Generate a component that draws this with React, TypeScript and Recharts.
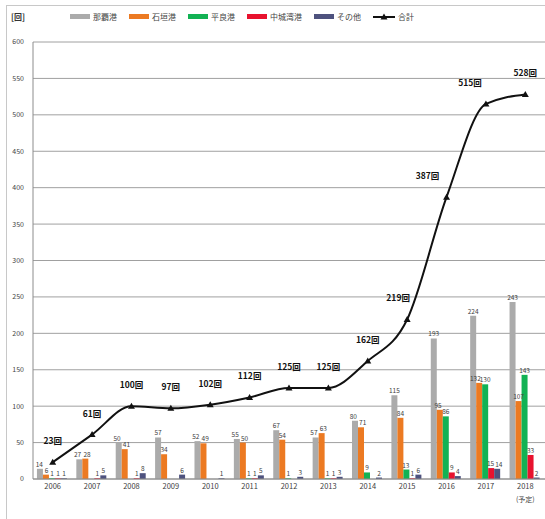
import React from 'react';
import { ComposedChart, Bar, Line, XAxis, YAxis, CartesianGrid, LabelList } from 'recharts';

const years = ['2006', '2007', '2008', '2009', '2010', '2011', '2012', '2013', '2014', '2015', '2016', '2017', '2018'];
const naha = [14, 27, 50, 57, 52, 55, 67, 57, 80, 115, 193, 224, 243];
const ishigaki = [6, 28, 41, 34, 49, 50, 54, 63, 71, 84, 95, 132, 107];
const hirara = [1, 0, 0, 0, 0, 1, 1, 1, 9, 13, 86, 130, 143];
const nakagusuku = [1, 1, 1, 0, 0, 1, 0, 1, 0, 1, 9, 15, 33];
const other = [1, 5, 8, 6, 1, 5, 3, 3, 2, 6, 4, 14, 2];
const total = [23, 61, 100, 97, 102, 112, 125, 125, 162, 219, 387, 515, 528];
const yTicks = [0, 50, 100, 150, 200, 250, 300, 350, 400, 450, 500, 550, 600];

const seriesNames = ['那覇港', '石垣港', '平良港', '中城湾港', 'その他'];
const seriesKeys = ['naha', 'ishigaki', 'hirara', 'nakagusuku', 'other'];
const seriesColors = ['#ababab', '#ec7a22', '#12b254', '#e8122e', '#4e527e'];
const seriesValues = [naha, ishigaki, hirara, nakagusuku, other];

const data = years.map((y, i) => ({
  year: y,
  naha: naha[i],
  ishigaki: ishigaki[i],
  hirara: hirara[i],
  nakagusuku: nakagusuku[i],
  other: other[i],
  total: total[i],
}));

const FONT = '"Noto Sans CJK JP", "Noto Sans", sans-serif';
const LABEL_FS = 6.5;
const DIGIT_W = 4.2;
const UNITS_PER_PX = 600 / 437;

const labelWidth = (v: number) => String(v).length * DIGIT_W;

// horizontal nudge to keep neighbouring bar labels apart
const pairShift = (a: number, b: number, barW: number) => {
  if (!a || !b) return 0;
  if (Math.abs(a - b) > 9 * UNITS_PER_PX) return 0;
  const req = (labelWidth(a) + labelWidth(b)) / 2 + 1;
  return req > barW ? (req - barW) / 2 : 0;
};

const makeBarLabel = (seriesIndex: number) => (props: any) => {
  const { x, y, width, value, index } = props;
  if (!value) return null;
  const prev = seriesIndex > 0 ? seriesValues[seriesIndex - 1][index] : 0;
  const next = seriesIndex < seriesValues.length - 1 ? seriesValues[seriesIndex + 1][index] : 0;
  const dx = pairShift(prev, value, width) - pairShift(value, next, width);
  return (
    <text x={x + width / 2 + dx} y={y - 2} textAnchor="middle" fontSize={LABEL_FS} fill="#404040" fontFamily={FONT}>
      {value}
    </text>
  );
};

const lineLabel = (props: any) => {
  const { x, y, value, index } = props;
  const dx = index === 9 ? -9 : index === 10 ? -19 : index === 11 ? -16 : 0;
  return (
    <text x={x + dx} y={y - 18} textAnchor="middle" fontSize={8.5} fontWeight="bold" fill="#111" fontFamily={FONT}>
      {value}回
    </text>
  );
};

const XTick = (props: any) => {
  const { x, y, payload, index } = props;
  return (
    <g>
      <text x={x} y={y + 8} textAnchor="middle" fontSize={7.5} fill="#404040" fontFamily={FONT}>
        {payload.value}
      </text>
      {index === years.length - 1 && (
        <text x={x} y={y + 21} textAnchor="middle" fontSize={7} fill="#404040" fontFamily={FONT}>
          (予定)
        </text>
      )}
    </g>
  );
};

const Triangle = (props: any) => {
  const { cx, cy } = props;
  if (cx == null || cy == null) return null;
  return <path d={`M${cx},${cy - 3.5} L${cx + 3.5},${cy + 2.5} L${cx - 3.5},${cy + 2.5} Z`} fill="#111" />;
};

export default function App() {
  return (
    <div style={{ position: 'absolute', left: 0, top: 0, width: 545, height: 519, overflow: 'hidden', background: '#fff', fontFamily: FONT }}>
      <div style={{ position: 'absolute', left: 6, top: 5, right: 0, bottom: 0, borderLeft: '1px solid #c8c8c8', borderTop: '1px solid #c8c8c8' }} />
      <div style={{ position: 'absolute', left: 11, top: 11, fontSize: 8, color: '#333', fontWeight: 'bold' }}>[回]</div>
      <div style={{ position: 'absolute', left: 70, top: 11, display: 'flex', alignItems: 'center', fontSize: 8, color: '#444' }}>
        {seriesNames.map((n, i) => (
          <div key={n} style={{ display: 'flex', alignItems: 'center', marginRight: 12 }}>
            <div style={{ width: 20, height: 5, background: seriesColors[i], marginRight: 3 }} />
            <span>{n}</span>
          </div>
        ))}
        <div style={{ display: 'flex', alignItems: 'center' }}>
          <svg width={22} height={8} style={{ marginRight: 3 }}>
            <line x1={0} y1={4} x2={22} y2={4} stroke="#111" strokeWidth={2} />
            <path d="M11,0.5 L14.5,6.5 L7.5,6.5 Z" fill="#111" />
          </svg>
          <span>合計</span>
        </div>
      </div>
      <ComposedChart
        width={545}
        height={519}
        data={data}
        margin={{ top: 42, right: 0, bottom: 0, left: 0 }}
        barGap={0}
        barCategoryGap="10%"
        style={{ position: 'absolute', left: 0, top: 0 }}
      >
        <CartesianGrid vertical={false} stroke="#a0a0a0" strokeWidth={1} />
        <XAxis
          dataKey="year"
          height={40}
          tickLine={false}
          tickSize={0}
          axisLine={{ stroke: '#8c8c8c' }}
          tick={<XTick />}
          interval={0}
        />
        <YAxis
          width={33}
          domain={[0, 600]}
          ticks={yTicks}
          interval={0}
          tickLine={false}
          tickSize={0}
          tickMargin={9}
          axisLine={{ stroke: '#8c8c8c' }}
          tick={{ fontSize: 7, fill: '#444', fontFamily: FONT }}
        />
        {seriesKeys.map((k, i) => (
          <Bar key={k} dataKey={k} name={seriesNames[i]} fill={seriesColors[i]} isAnimationActive={false}>
            <LabelList dataKey={k} content={makeBarLabel(i)} />
          </Bar>
        ))}
        <Line
          type="monotone"
          dataKey="total"
          name="合計"
          stroke="#111"
          strokeWidth={2}
          dot={<Triangle />}
          activeDot={false}
          isAnimationActive={false}
        >
          <LabelList dataKey="total" content={lineLabel} />
        </Line>
      </ComposedChart>
    </div>
  );
}
